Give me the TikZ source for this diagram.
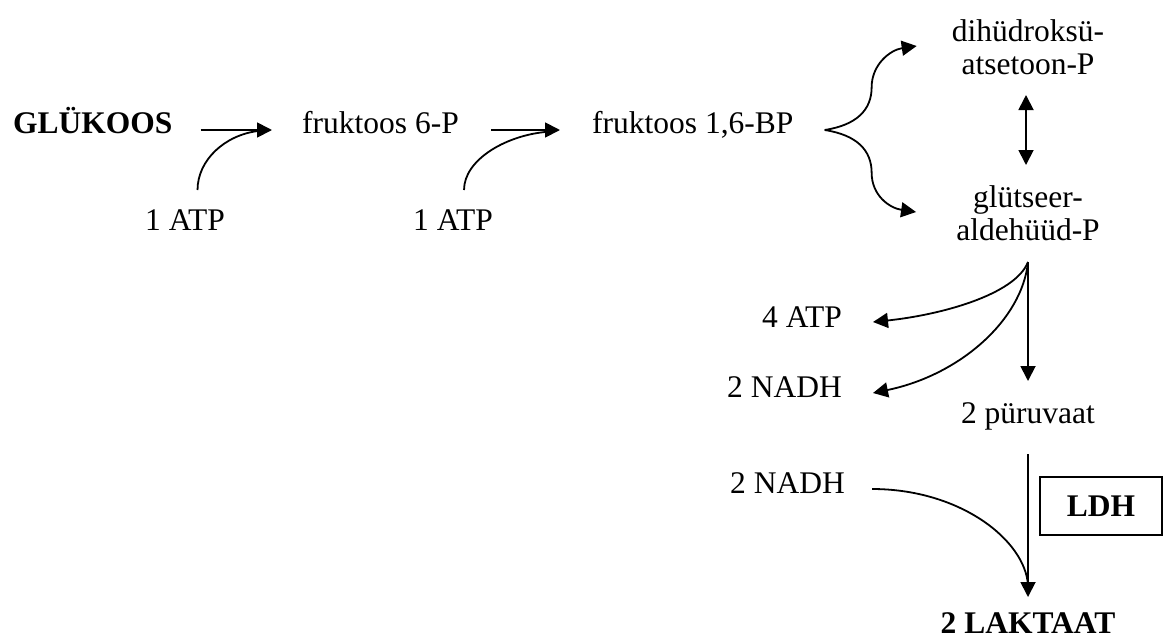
\documentclass[tikz,border=0pt]{standalone}
\usepackage{fontspec}
\setmainfont{Liberation Serif}
\usetikzlibrary{arrows.meta}
\begin{document}
\begin{tikzpicture}[x=1pt,y=-1pt,
  lbl/.style={inner sep=0pt, font=\fontsize{31.5}{33}\selectfont},
  boldlbl/.style={lbl, font=\fontsize{31.5}{33}\selectfont\bfseries},
  tip/.tip={Triangle[length=15pt,width=15pt]},
  flow/.style={line width=1.8pt, -tip},
  feed/.style={line width=1.8pt}]
\useasboundingbox (0,0) rectangle (1167,641);

% metabolites and cofactors (two-line labels sit on their last baseline)
\node[boldlbl, anchor=base west] (glc) at (13,133) {GLÜKOOS};
\node[lbl, anchor=base west] (f6p) at (302,133) {fruktoos 6-P};
\node[lbl, anchor=base west] (f16) at (592,133) {fruktoos 1,6-BP};
\node[lbl, anchor=base west] (atpA) at (145,230) {1 ATP};
\node[lbl, anchor=base west] (atpB) at (413,230) {1 ATP};
\node[lbl, anchor=base, align=center] (dhap) at (1028,74) {dihüdroksü-\\atsetoon-P};
\node[lbl, anchor=base, align=center] (gap) at (1028,240) {glütseer-\\aldehüüd-P};
\node[lbl, anchor=base east] (atpC) at (842,327) {4 ATP};
\node[lbl, anchor=base east] (nadhA) at (842,397) {2 NADH};
\node[lbl, anchor=base] (pyr) at (1028,423) {2 püruvaat};
\node[lbl, anchor=base east] (nadhB) at (845,493) {2 NADH};
\node[boldlbl, draw, line width=1.8pt, minimum width=122pt, minimum height=58pt] (ldh) at (1101,506) {LDH};
\node[boldlbl, anchor=base] (lak) at (1028,633) {2 LAKTAAT};

% upper chain
\draw[flow] ([xshift=28pt,yshift=3pt]glc.base east) -- ([xshift=-30pt,yshift=3pt]f6p.base west);
\draw[feed] ([xshift=12.5pt,yshift=40pt]atpA.base) .. controls +(0,-30) and +(-33,4) .. ([xshift=-44pt,yshift=2pt]f6p.base west);
\draw[flow] ([xshift=32pt,yshift=3pt]f6p.base east) -- ([xshift=-32pt,yshift=3pt]f16.base west);
\draw[feed] ([xshift=11pt,yshift=40pt]atpB.base) .. controls +(0,-30) and +(-40,4) .. ([xshift=-47pt,yshift=1pt]f16.base west);

% split into the two trioses
\coordinate (split) at ([xshift=31pt,yshift=3pt]f16.base east);
\draw[flow] (split) .. controls +(32,-5) and +(0,23) .. ++(47,-43)
  .. controls +(0,-22) and +(-27,4) .. ([xshift=-35pt,yshift=28pt]dhap.base west);
\draw[flow] (split) .. controls +(32,5) and +(0,-23) .. ++(47,43)
  .. controls +(0,22) and +(-27,-4) .. ([xshift=-40pt,yshift=28pt]gap.base west);
\draw[line width=1.8pt, tip-tip] ([xshift=-2pt,yshift=-21pt]dhap.base) -- ([xshift=-2pt,yshift=75pt]gap.base);

% glyceraldehyde-P to pyruvate
\coordinate (gs) at ([yshift=-22pt]gap.base);
\draw[flow] (gs) -- ([yshift=42pt]pyr.base);
\draw[flow] (gs) .. controls +(-13,33) and +(67,-7) .. ([xshift=31pt,yshift=5pt]atpC.base east);
\draw[flow] (gs) .. controls +(-6,58) and +(87,-18) .. ([xshift=31pt,yshift=4pt]nadhA.base east);

% pyruvate to lactate
\draw[flow] ([yshift=-31pt]pyr.base) -- ([yshift=36pt]lak.base);
\draw[feed] ([xshift=27pt,yshift=4pt]nadhB.base east) .. controls +(88,0) and +(-3,-45) .. ([yshift=48pt]lak.base);
\end{tikzpicture}
\end{document}
